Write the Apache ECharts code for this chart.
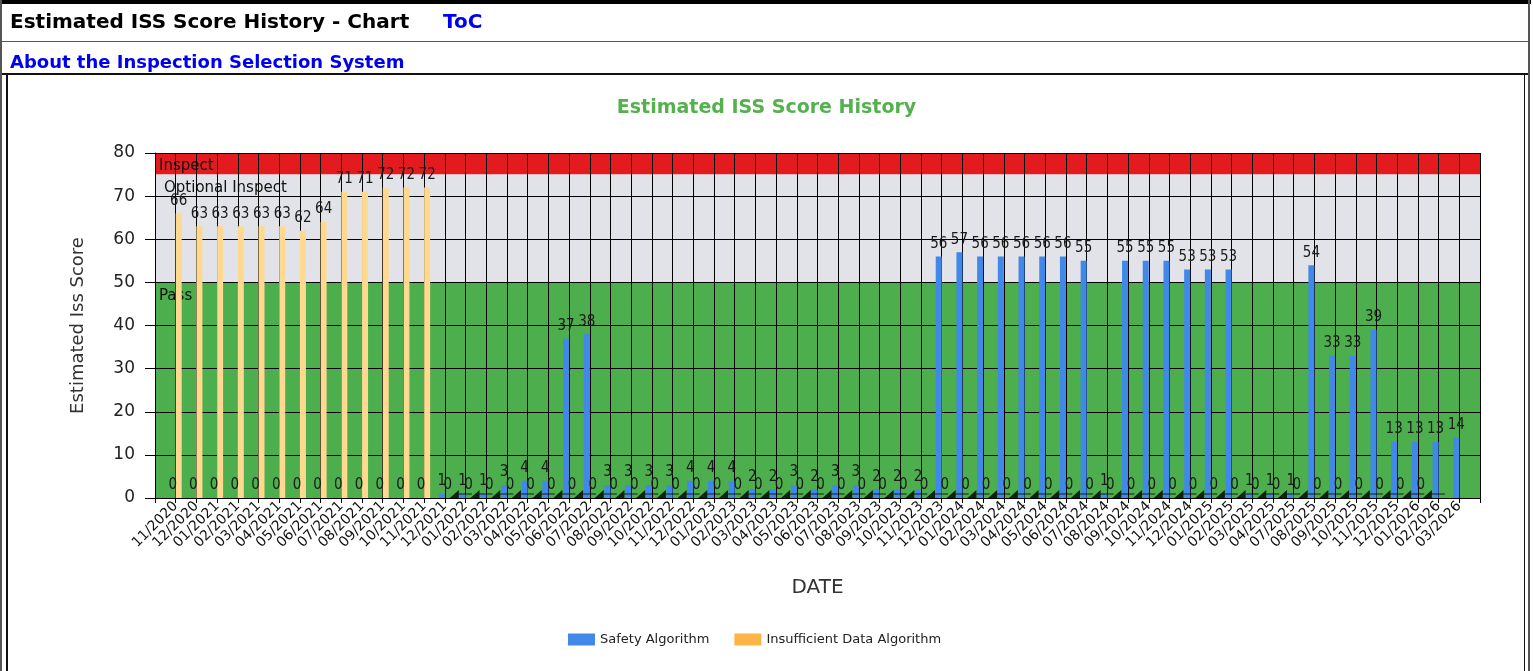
<!DOCTYPE html>
<html>
<head>
<meta charset="utf-8">
<script src="https://cdn.jsdelivr.net/npm/echarts@6/dist/echarts.min.js"></script>
<style>
  html, body { margin:0; padding:0; width:1533px; height:671px; overflow:hidden; background:#fff; }
  #chart { position:absolute; left:0; top:0; width:1533px; height:671px; z-index:1; }
  .ov { position:absolute; z-index:2; }
  .hdr { font-family:"DejaVu Sans", sans-serif; font-weight:bold; white-space:nowrap; }
</style>
</head>
<body>
<div id="chart"></div>
<div class="ov" style="left:0;top:0;width:1531px;height:4px;background:#000"></div>
<div class="ov" style="left:0;top:0;width:2px;height:671px;background:#555"></div>
<div class="ov" style="left:1528px;top:0;width:2px;height:671px;background:#555"></div>
<div class="ov" style="left:2px;top:41px;width:1526px;height:1px;background:#555"></div>
<div class="ov" style="left:2px;top:73px;width:1526px;height:2px;background:#111"></div>
<div class="ov" style="left:6px;top:75px;width:2px;height:596px;background:#111"></div>
<div class="ov" style="left:1524px;top:75px;width:1px;height:596px;background:#111"></div>
<div class="ov hdr" style="left:10px;top:8px;font-size:20px;line-height:26px;color:#000">Estimated ISS Score History - Chart</div>
<div class="ov hdr" style="left:443px;top:8px;font-size:20px;line-height:26px;color:#0000EE">ToC</div>
<div class="ov hdr" style="left:10px;top:50px;font-size:18px;line-height:24px;color:#0000EE">About the Inspection Selection System</div>
<script>
// ---- data ----
const months = ['11/2020','12/2020','01/2021','02/2021','03/2021','04/2021','05/2021','06/2021','07/2021','08/2021','09/2021','10/2021','11/2021','12/2021',
  '01/2022','02/2022','03/2022','04/2022','05/2022','06/2022','07/2022','08/2022','09/2022','10/2022','11/2022','12/2022',
  '01/2023','02/2023','03/2023','04/2023','05/2023','06/2023','07/2023','08/2023','09/2023','10/2023','11/2023','12/2023',
  '01/2024','02/2024','03/2024','04/2024','05/2024','06/2024','07/2024','08/2024','09/2024','10/2024','11/2024','12/2024',
  '01/2025','02/2025','03/2025','04/2025','07/2025','08/2025','09/2025','10/2025','11/2025','12/2025',
  '01/2026','02/2026','03/2026'];
const safetyScores = [0,0,0,0,0,0,0,0,0,0,0,0,0,
  1,1,1,3,4,4,37,38,3,3,3,3,4,4,4,2,2,3,2,3,3,2,2,2,
  56,57,56,56,56,56,56,55,1,55,55,55,53,53,53,1,1,1,54,33,33,39,13,13,13,14];
const insufficientScores = [66,63,63,63,63,63,62,64,71,71,72,72,72,
  0,0,0,0,0,0,0,0,0,0,0,0,0,0,0,0,0,0,0,0,0,0,0,0,
  0,0,0,0,0,0,0,0,0,0,0,0,0,0,0,0,0,0,0,0,0,0,0,0];
const bandNames = ['Inspect','Optional Inspect','Pass'];
const bandFrom = [75, 50, 0];
const bandTo = [80, 75, 50];
const seriesNames = ['Safety Algorithm','Insufficient Data Algorithm'];
const yMin = 0, yMax = 80, yStep = 10;

// ---- styles ----
const bandColors = ['#E31B1F', '#E1E3E8', '#4CAE4C'];
const bandLabelOffset = [[-1,1], [4,1], [-1,1]];
const FONT = '"DejaVu Sans", sans-serif';
const LABFONT = '"DejaVu Sans Condensed", "DejaVu Sans", sans-serif';

const cats = [''].concat(months, ['']);
const pad = arr => ['-'].concat(arr, ['-']);
const calloutAnchors = insufficientScores.map(v => (v === 0 ? 0 : '-'));

const chart = echarts.init(document.getElementById('chart'), null, { renderer:'canvas' });
const valueLabel = {
  show:true, position:'top', distance:5, color:'#1a1a1a', fontFamily:LABFONT, fontSize:15
};
const bandAreas = bandNames.map((n, k) => [
  { yAxis:bandTo[k], itemStyle:{ color:bandColors[k], opacity:1 },
    label:{ show:true, position:'insideTopLeft', distance:5, offset:bandLabelOffset[k],
            formatter:n, color:'#111', fontFamily:FONT, fontSize:15 } },
  { yAxis:bandFrom[k] }
]);

chart.setOption({
  animation:false,
  backgroundColor:'transparent',
  title:{
    text:'Estimated ISS Score History', left:'center', top:94,
    textStyle:{ color:'#55B14F', fontFamily:FONT, fontWeight:'bold', fontSize:19 }
  },
  legend:{
    left:563, top:628, itemWidth:27, itemHeight:12, itemGap:25, icon:'rect',
    textStyle:{ color:'#222', fontFamily:FONT, fontSize:13 },
    data:[
      { name:seriesNames[0], itemStyle:{ color:'#4189E8' } },
      { name:seriesNames[1], itemStyle:{ color:'#FDB448' } }
    ]
  },
  grid:{ left:155, right:53, top:153, bottom:173 },
  xAxis:{
    type:'category', data:cats, boundaryGap:false, z:1,
    axisLine:{ lineStyle:{ color:'#000', width:1 } },
    axisTick:{ show:true, interval:0, length:5, lineStyle:{ color:'#000' } },
    axisLabel:{ interval:0, rotate:45, margin:6, color:'#111', fontFamily:FONT, fontSize:14 },
    splitLine:{ show:true, interval:0, lineStyle:{ color:'#000', width:1 } },
    name:'DATE', nameLocation:'middle', nameGap:80,
    nameTextStyle:{ color:'#333', fontFamily:FONT, fontSize:20 }
  },
  yAxis:{
    type:'value', min:yMin, max:yMax, interval:yStep, z:1,
    axisLine:{ show:true, lineStyle:{ color:'#000', width:1 } },
    axisTick:{ show:true, length:10, lineStyle:{ color:'#000' } },
    axisLabel:{ margin:20, color:'#222', fontFamily:FONT, fontSize:17 },
    splitLine:{ show:true, lineStyle:{ color:'#000', width:1 } },
    name:'Estimated Iss Score', nameLocation:'middle', nameGap:68, nameRotate:90,
    nameTextStyle:{ color:'#333', fontFamily:FONT, fontSize:18 }
  },
  series:[
    {
      name:'bands', type:'line', data:cats.map(() => '-'), silent:true, z:0,
      markArea:{ silent:true, z:0, data:bandAreas }
    },
    {
      name:seriesNames[0], type:'bar', data:pad(safetyScores), barWidth:6, barGap:'0%', z:2,
      itemStyle:{ color:'#4189E8' }, label:valueLabel
    },
    {
      name:seriesNames[1], type:'bar', data:pad(insufficientScores), barWidth:6, barGap:'0%', z:2,
      itemStyle:{ color:'#FFD98F' }, label:valueLabel
    },
    {
      name:'callouts', type:'scatter', data:pad(calloutAnchors), z:3, silent:true,
      symbol:'path://M0,8L9,0L9,8Z M9,3.6L22,3.6L22,4.6L9,4.6Z', symbolSize:[22,8],
      symbolOffset:[16,-4], itemStyle:{ color:'#000' }
    }
  ]
});
</script>
</body>
</html>
